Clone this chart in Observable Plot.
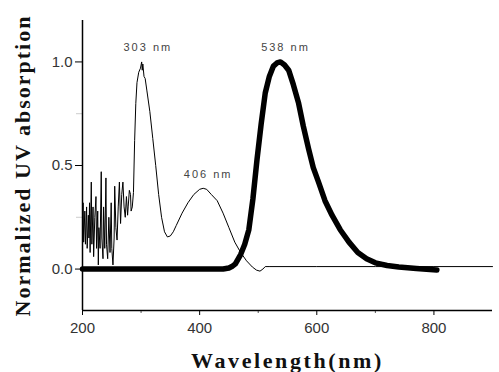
<!DOCTYPE html>
<html>
<head>
<meta charset="utf-8">
<script src="https://cdn.jsdelivr.net/npm/d3@7"></script>
<script src="https://cdn.jsdelivr.net/npm/@observablehq/plot@0.6"></script>
<style>
  html, body { margin: 0; padding: 0; background: #fff; }
  #chart svg { display: block; }
</style>
</head>
<body>
<div id="chart"></div>
<script>
// Absorption spectrum (thin line)
const absNm = [200,201,202,204,205,207,208,210,211,212,213,215,216,218,219,221,223,224,226,227,228,230,232,233,235,236,238,240,241,243,245,247,249,250,252,254,255,257,259,261,263,265,267,269,271,273,275,277,278,280,282,283,285,287,
  289,291,293,296,299,301,302,303,305,307,310,315,320,325,330,335,340,345,350,355,360,370,380,390,400,406,412,420,430,440,450,460,470,480,490,497,503,508,512,520,600,700,800,900];
const absVal = [0.20,0.32,0.13,0.28,0.12,0.30,0.10,0.26,0.15,0.32,0.08,0.42,0.12,0.30,0.06,0.25,0.35,0.10,0.28,0.02,0.20,0.10,0.47,0.15,0.05,0.30,0.10,0.44,0.12,0.05,0.25,0.08,0.32,0.10,0.02,0.15,0.40,0.20,0.14,0.30,0.42,0.22,0.36,0.42,0.30,0.25,0.35,0.26,0.30,0.38,0.36,0.28,0.30,0.37,
  0.62,0.80,0.90,0.95,0.97,1.00,0.96,0.99,0.93,0.92,0.86,0.76,0.63,0.50,0.36,0.25,0.18,0.155,0.16,0.18,0.21,0.27,0.32,0.36,0.385,0.39,0.385,0.36,0.33,0.27,0.20,0.13,0.08,0.04,0.01,-0.005,-0.01,0.0,0.012,0.012,0.012,0.012,0.012,0.012];

// Emission spectrum (thick line)
const emNm = [200,300,400,440,450,455,461,470,477,484,491,498,505,512,519,526,532,538,545,552,560,569,577,586,594,603,614,626,640,655,670,685,700,720,740,770,805];
const emVal = [0,0,0,0,0.005,0.012,0.025,0.07,0.12,0.19,0.34,0.53,0.70,0.85,0.93,0.98,0.995,1.0,0.985,0.96,0.89,0.80,0.69,0.58,0.49,0.42,0.33,0.26,0.19,0.13,0.08,0.05,0.03,0.017,0.01,0.003,-0.005];

// Peak annotations
const peakNm = [303, 406, 538];
const peakVal = [1.0, 0.39, 1.0];
const peakLabels = ["303 nm", "406 nm", "538 nm"];

// Axis ticks and titles
const xTicks = [200, 400, 600, 800];
const xMinor = [300, 500, 700];
const yTicks = [0, 0.5, 1.0];
const yMinor = [0.25, 0.75];
const xTitle = "Wavelength(nm)";
const yTitle = "Normalized UV absorption";

const absorption = absNm.map((d, i) => ({nm: d, v: absVal[i]}));
const emission = emNm.map((d, i) => ({nm: d, v: emVal[i]}));
const peaks = peakNm.map((d, i) => ({nm: d, v: peakVal[i], label: peakLabels[i]}));

const chart = Plot.plot({
  width: 499,
  height: 372,
  marginLeft: 82,
  marginRight: 7,
  marginTop: 20,
  marginBottom: 62,
  x: {domain: [200, 900]},
  y: {domain: [-0.2, 1.2]},
  style: {fontFamily: "Liberation Sans, Arial, sans-serif", background: "#fff"},
  marks: [
    Plot.axisX(xMinor, {tickSize: 3, tickFormat: () => "", label: null, stroke: "#555"}),
    Plot.axisX(xTicks, {tickSize: 5, tickPadding: 7, fontSize: 15, fill: "#333", stroke: "black", label: null}),
    Plot.axisY(yMinor, {tickSize: 6, tickFormat: () => "", label: null, stroke: "#ccc"}),
    Plot.axisY(yTicks, {tickSize: 7, tickPadding: 3, tickFormat: d3.format(".1f"), fontSize: 15, fill: "#333", stroke: "black", label: null}),
    Plot.ruleY([-0.2], {stroke: "black", strokeWidth: 1.5}),
    Plot.ruleX([200], {stroke: "black", strokeWidth: 1.5}),
    Plot.line(absorption, {x: "nm", y: "v", stroke: "black", strokeWidth: 1}),
    Plot.line(emission, {x: "nm", y: "v", stroke: "black", strokeWidth: 5.5, strokeLinejoin: "round"}),
    Plot.text(peaks, {x: "nm", y: "v", text: "label", dx: 5, dy: -14, fontSize: 11, fill: "#444", style: "letter-spacing:2px"}),
    Plot.text([xTitle], {frameAnchor: "bottom", dy: 50, lineAnchor: "middle", textAnchor: "middle", fontSize: 22, fontWeight: "bold", fontFamily: "Liberation Serif, Times New Roman, serif", fill: "#111"}),
    Plot.text([yTitle], {frameAnchor: "left", rotate: -90, dx: -60, lineAnchor: "middle", textAnchor: "middle", fontSize: 22, fontWeight: "bold", fontFamily: "Liberation Serif, Times New Roman, serif", fill: "#111"})
  ]
});

d3.select(chart).selectAll("text").filter(function() { return d3.select(this).text() === xTitle; }).style("letter-spacing", "2.6px");
d3.select(chart).selectAll("text").filter(function() { return d3.select(this).text() === yTitle; }).style("letter-spacing", "2px");
d3.select(chart).selectAll("text").filter(function() { return peakLabels.includes(d3.select(this).text()); }).style("letter-spacing", "2px");

document.getElementById("chart").appendChild(chart);
</script>
</body>
</html>
